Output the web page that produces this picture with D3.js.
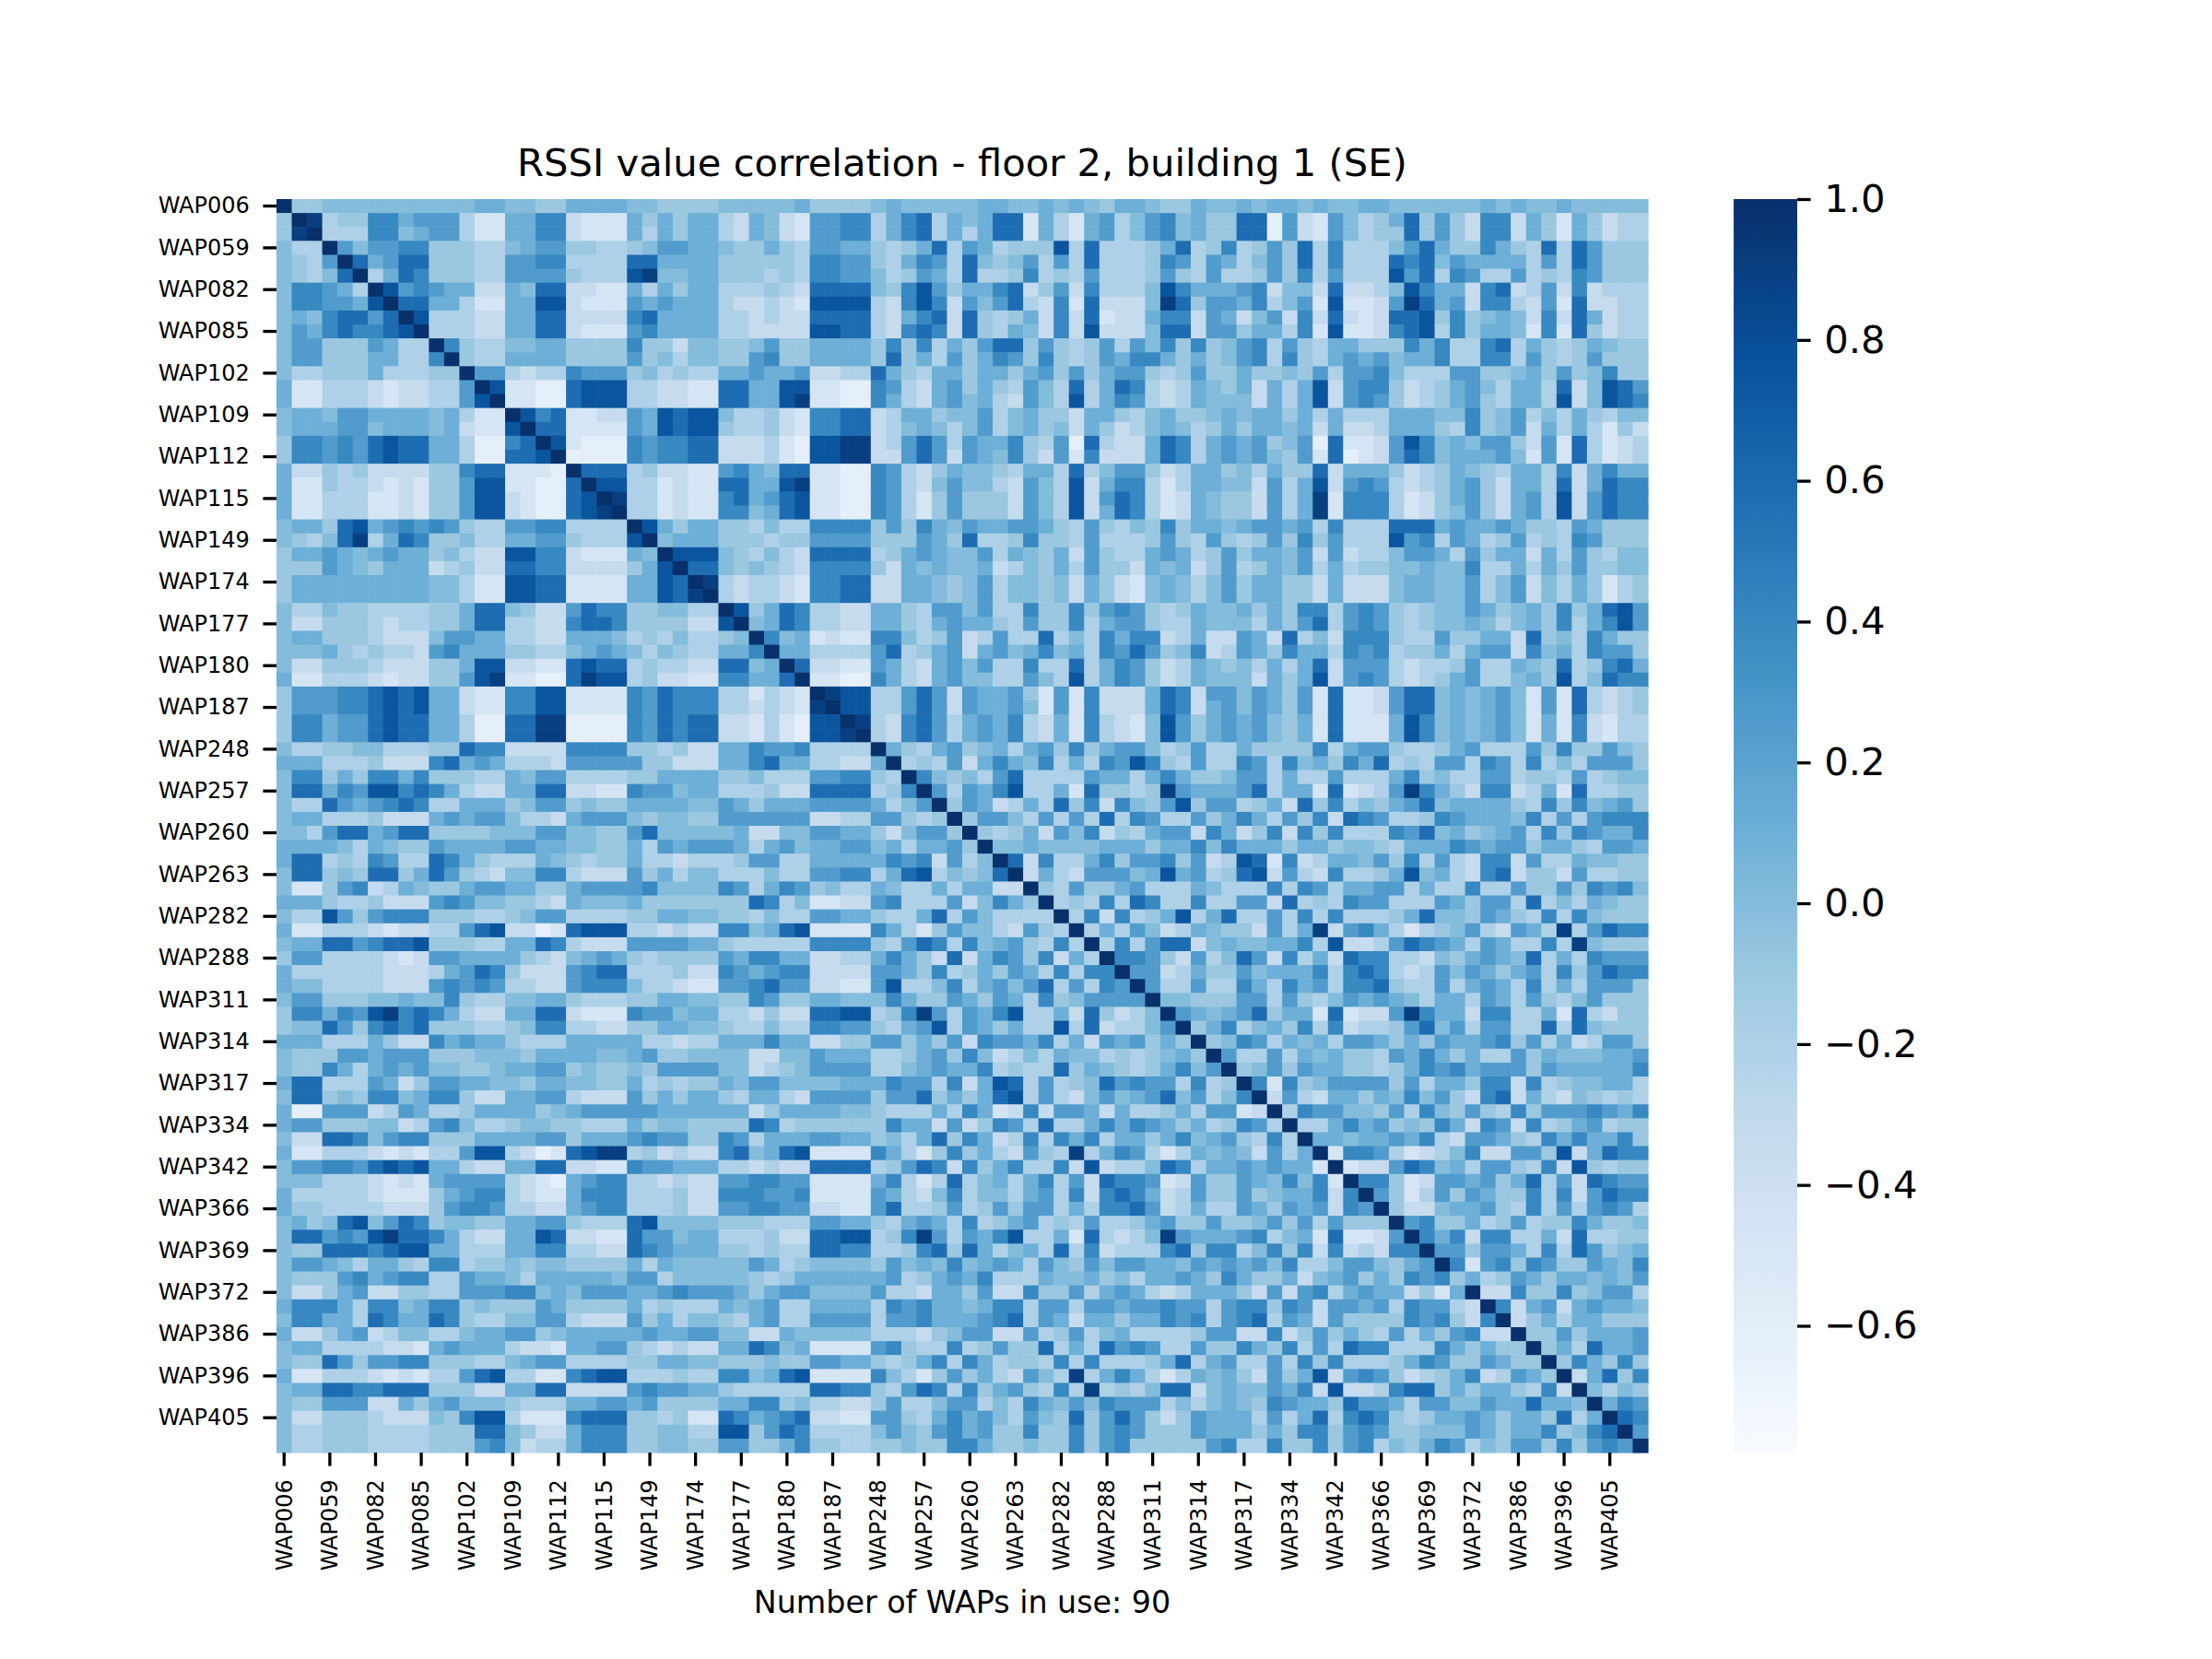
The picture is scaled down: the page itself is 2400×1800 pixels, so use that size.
<!DOCTYPE html>
<html>
<head>
<meta charset="utf-8">
<script src="https://cdn.jsdelivr.net/npm/d3@7"></script>
<style>
  body { margin: 0; background: #fff; }
  svg { display: block; font-family: 'DejaVu Sans', sans-serif; }
</style>
</head>
<body>
<div id="chart"></div>
<script>
// WAP names in matrix order (only every third one is labelled in the figure)
var waps = [
  'WAP006', 'WAP007', 'WAP058', 'WAP059', 'WAP060', 'WAP081', 'WAP082', 'WAP083', 'WAP084', 'WAP085',
  'WAP086', 'WAP101', 'WAP102', 'WAP107', 'WAP108', 'WAP109', 'WAP110', 'WAP111', 'WAP112', 'WAP113',
  'WAP114', 'WAP115', 'WAP116', 'WAP147', 'WAP149', 'WAP172', 'WAP173', 'WAP174', 'WAP175', 'WAP176',
  'WAP177', 'WAP178', 'WAP179', 'WAP180', 'WAP181', 'WAP186', 'WAP187', 'WAP188', 'WAP247', 'WAP248',
  'WAP249', 'WAP256', 'WAP257', 'WAP258', 'WAP259', 'WAP260', 'WAP261', 'WAP262', 'WAP263', 'WAP264',
  'WAP281', 'WAP282', 'WAP286', 'WAP287', 'WAP288', 'WAP289', 'WAP310', 'WAP311', 'WAP312', 'WAP313',
  'WAP314', 'WAP315', 'WAP316', 'WAP317', 'WAP318', 'WAP333', 'WAP334', 'WAP335', 'WAP341', 'WAP342',
  'WAP343', 'WAP365', 'WAP366', 'WAP367', 'WAP368', 'WAP369', 'WAP370', 'WAP371', 'WAP372', 'WAP373',
  'WAP385', 'WAP386', 'WAP387', 'WAP395', 'WAP396', 'WAP397', 'WAP404', 'WAP405', 'WAP406', 'WAP407'
]
var labelEvery = 3

// correlation, one character per cell (lower triangle, row by row)
var levelValues = {
  '0': -0.62, '1': -0.48, '2': -0.34, '3': -0.2, '4': -0.1, '5': 0.0,
  '6': 0.1, '7': 0.25, '8': 0.4, '9': 0.58, 'A': 0.75, 'B': 0.9, 'X': 1.0
}
var corrRows = [
  'X',
  '4X',
  '4BX',
  '533X',
  '5437X',
  '54359X',
  '588763X',
  '588776AX',
  '56589979X',
  '57689889AX',
  '5774447633X',
  '57744466338X',
  '533444633344X',
  '6113332122337X',
  '6113332122337AX',
  '566577666656311X',
  '566677566656211AX',
  '4887879A996630089X',
  '4887879A996630099AX',
  '6224342222448991110X',
  '6114332121447AA11009X',
  '6113331121447AA21009AX',
  '6113331121447AA21009ABX',
  '56649A67878743377883333X',
  '54359B36984453366774333AX',
  '466765676645322AA88211165X',
  '4447654666234229988222246AX',
  '466666666655311AA99111166A9X',
  '466666666655311AA99111166A9BX',
  '53354433334469954227988445533X',
  '52244432334469933228998444422AX',
  '5664443222577663322666534353345X',
  '55564343327866644335676535433668X',
  '5224443222446AA22119A993433229956X',
  '6113332122447AB11009BAA34221188669X',
  '4777889A9A6621188AA1111879888331321X',
  '4777889A9A6621188AA111187988833232 1BX'.replace(' ', ''),
  '4886779A996630099BB0000879899221310AAX',
  '4886779A996630099BB0000879899221310AABX',
  '533445533344988222288884434226687783333X',
  '6663334222896763332777774422266896633226X',
  '58846488684443365773333446666445333778843X',
  '599687AA8986322669922118775663334229999348X',
  '5339767898336664577454466665576466677776357X',
  '56633342226767753326777545544777777223377434X',
  '553799679944445557755447955555622557766425774X',
  '6666536544766667766554463767776367566775636674X',
  '69934387339864333654344633233347733666668782735X',
  '599454994697432558832227463553335337788369A35459X',
  '5114782365446776644677778555587368745336533636622X',
  '66643342227875544326555644444449835112278333725864X',
  '533A74788844433457733334466554435337766433693753333X',
  '61133321223379A22019AAA33232288569A11118631475532743X',
  '566997899A4443366983222777766433333888843798385674383X',
  '477333321277666643256764344447688662233686429268748263X',
  '6333333222367984222789933342287678822227764834647638388X',
  '6553333222787873322788853321177897722117A335836757937387X',
  '577444556558433556643334466554487446655586447647638457777X',
  '488687AB89863226699211187756633242299AA348B73768A336294235X',
  '4559748989444334588332244665543353388774367A3764633A3923357X',
  '666333642286766433366666332336668662244774647287768362767464X',
  '5444776777444555466665567445555225576663346748523536553434564X',
  '54486367675544566774544547777552345777733567668343394654346857X',
  '69933376247766554665544634344657755556668773826A937345978773834X',
  '599454885688422667732227464664366327777477946469A373257567957358X',
  '60077723763346666456777776666662466665543336386128277626334637712X',
  '677444552378533455443336455444498344444486627248739336868764634873X',
  '5229985788444666677466678774487366677664536948623838683664685674383X',
  '6113332121337AA32019ABB34232289569A11118631484632743B368731365652736X',
  '5778879A9A6632266992211877666332322999934798284683382A233598366767661X',
  '5553332121677773210678833232277887711116831393563683729887127447658581X',
  '63333321114678832116888333422888778111176325835536738289862374474566828X',
  '644333322247887332267883334227788772211793347347477363889723633764767287X',
  '56459A579845544667743339A555544433377664367638346734373346744744574737444X',
  '599787AB998632266A9221197756633342299AA348B73768A336193235B766678356191127X',
  '54499989AA66333668833229876664434339988334894963563938233389488358482823288X',
  '5776536643883445455444463655555763455554756585676375475776657676758335775467X',
  '544478678833766536666657735555543466666673467683336556453667648644625674648784X',
  '522467224433777885657776678777646775555733266472284473676323666427278367662416X',
  '6888638856884544476444463433365673366663878665688377377677877378848727767387732X',
  '58866398669843355773222746355436733777737786667893762664668783789376274444878428X',
  '622467235533566774566666766775522655555333245772273473563333477228247464373647822X',
  '5663333221676663221667743232266985611117843383474493639787337448648373988333864644X',
  '54497477884443356773333446655444544776643468386344383833346936733738483334687447644X',
  '61133321213379A331189AA33343388569A11118531474632753B368631365642746A278742346823764X',
  '56699889994442266992222787766433333998843798384674383B343599256557682A223899464664382X',
  '54477722646755543336677674444668845332247335773538657587773535654876649776377557669665X',
  '5224443222548AA311189994434119867892211774368675375494797424766637369389843466764664936X',
  '53344433334449954226888445533AA479833335754786744844847874447666464884787445557646684589X',
  '53344433334447852336888445544774468443344544886445448478444447833844847835468735477484787X'
]

// colour limits and colorbar ticks as in the figure
var colorDomain = [-0.78, 1.0]
var colorbarTicks = [-0.6, -0.4, -0.2, 0.0, 0.2, 0.4, 0.6, 0.8, 1.0]
var blues = ['#f7fbff', '#deebf7', '#c6dbef', '#9ecae1', '#6baed6', '#4292c6', '#2171b5', '#08519c', '#08306b']

var titleText = 'RSSI value correlation - floor 2, building 1 (SE)'
var xLabelText = 'Number of WAPs in use: ' + waps.length

// figure geometry (matplotlib 8x6 in at 300 dpi)
var W = 2400
var H = 1800
var plotLeft = 300
var plotRight = 1788
var plotTop = 216
var plotBottom = 1576
var cbLeft = 1881
var cbRight = 1950
var tickLen = 14.6
var tickPad = 14.6

// builds the symmetric matrix cells from the lower triangle rows
var cells = []
for (var i = 0; i < corrRows.length; i++) {
  var row = corrRows[i]
  for (var j = 0; j <= i && j < row.length; j++) {
    var v = levelValues[row[j]]
    cells.push({ r: waps[i], c: waps[j], v: v })
    if (i !== j) cells.push({ r: waps[j], c: waps[i], v: v })
  }
}

var x = d3.scaleBand().domain(waps).range([plotLeft, plotRight]).padding(0)
var y = d3.scaleBand().domain(waps).range([plotTop, plotBottom]).padding(0)

var color = d3.scaleLinear()
  .domain(blues.map(function (d, k) {
    return colorDomain[0] + k * (colorDomain[1] - colorDomain[0]) / (blues.length - 1)
  }))
  .range(blues)

var svg = d3.select('#chart')
  .append('svg')
  .attr('width', W)
  .attr('height', H)

svg.append('rect')
  .attr('width', W)
  .attr('height', H)
  .attr('fill', '#ffffff')

// heatmap cells
svg.append('g')
  .selectAll('rect')
  .data(cells)
  .enter()
  .append('rect')
  .attr('x', function (d) { return x(d.c) })
  .attr('y', function (d) { return y(d.r) })
  .attr('width', x.bandwidth() + 0.6)
  .attr('height', y.bandwidth() + 0.6)
  .attr('fill', function (d) { return color(d.v) })

var shown = waps.filter(function (d, k) { return k % labelEvery === 0 })

// left axis
var yAxis = svg.append('g')
  .attr('transform', 'translate(' + plotLeft + ',0)')
  .call(d3.axisLeft(y).tickValues(shown).tickSize(tickLen).tickPadding(tickPad))
yAxis.select('.domain').remove()
yAxis.selectAll('line').attr('stroke', '#000').attr('stroke-width', 3.3)
yAxis.selectAll('text')
  .attr('fill', '#000')
  .style('font-size', '24px')
  .style('font-family', 'DejaVu Sans')

// bottom axis with vertical labels
var xAxis = svg.append('g')
  .attr('transform', 'translate(0,' + plotBottom + ')')
  .call(d3.axisBottom(x).tickValues(shown).tickSize(tickLen).tickPadding(tickPad))
xAxis.select('.domain').remove()
xAxis.selectAll('line').attr('stroke', '#000').attr('stroke-width', 3.3)
xAxis.selectAll('text')
  .attr('fill', '#000')
  .attr('transform', 'rotate(-90)')
  .attr('x', -(tickLen + tickPad))
  .attr('y', 0)
  .attr('dy', '0.35em')
  .style('text-anchor', 'end')
  .style('font-size', '24px')
  .style('font-family', 'DejaVu Sans')

// colorbar
var cbScale = d3.scaleLinear().domain(colorDomain).range([plotBottom, plotTop])
var grad = svg.append('defs')
  .append('linearGradient')
  .attr('id', 'cbgrad')
  .attr('x1', 0).attr('y1', 1)
  .attr('x2', 0).attr('y2', 0)
grad.selectAll('stop')
  .data(blues)
  .enter()
  .append('stop')
  .attr('offset', function (d, k) { return k / (blues.length - 1) })
  .attr('stop-color', function (d) { return d })

svg.append('rect')
  .attr('x', cbLeft)
  .attr('y', plotTop)
  .attr('width', cbRight - cbLeft)
  .attr('height', plotBottom - plotTop)
  .attr('fill', 'url(#cbgrad)')

var cbAxis = svg.append('g')
  .attr('transform', 'translate(' + cbRight + ',0)')
  .call(d3.axisRight(cbScale).tickValues(colorbarTicks).tickSize(tickLen).tickPadding(tickPad)
    .tickFormat(d3.format('.1f')))
cbAxis.select('.domain').remove()
cbAxis.selectAll('line').attr('stroke', '#000').attr('stroke-width', 3.3)
cbAxis.selectAll('text')
  .attr('fill', '#000')
  .style('font-size', '41.7px')
  .style('font-family', 'DejaVu Sans')

// title and x label
svg.append('text')
  .attr('x', (plotLeft + plotRight) / 2)
  .attr('y', 191)
  .attr('text-anchor', 'middle')
  .style('font-size', '41.7px')
  .text(titleText)

svg.append('text')
  .attr('x', (plotLeft + plotRight) / 2)
  .attr('y', 1750)
  .attr('text-anchor', 'middle')
  .style('font-size', '33.3px')
  .text(xLabelText)
</script>
</body>
</html>
